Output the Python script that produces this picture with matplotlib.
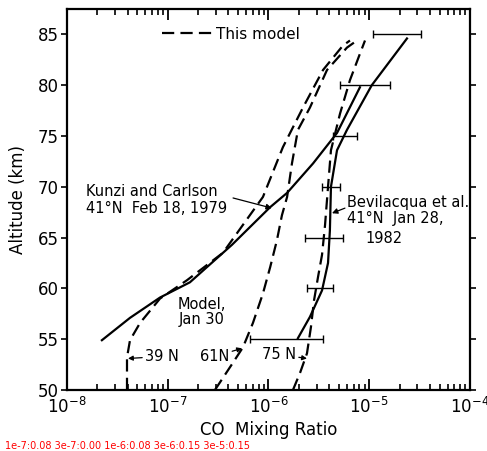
import io
import numpy as np
import matplotlib
matplotlib.use("Agg")
import matplotlib.pyplot as plt
from matplotlib.ticker import LogLocator, NullFormatter

plt.rcParams['font.family'] = ['DejaVu Sans']
plt.rcParams['mathtext.fontset'] = 'dejavusans'

# Kunzi and Carlson, 41N Feb 18 1979 (solid)
kunzi_co = [2.22e-8, 4.22e-8, 8.38e-8, 1.66e-7, 4.35e-7, 1.04e-6, 1.53e-6, 2.77e-6, 4.79e-6, 8.09e-6]
kunzi_alt = [54.9, 57.1, 59.1, 60.6, 64.3, 68.0, 69.4, 72.3, 75.3, 79.8]

# Bevilacqua et al., 41N Jan 28 1982 (solid)
bev_co = [1.96e-6, 2.58e-6, 3.40e-6, 3.90e-6, 4.07e-6, 4.17e-6, 4.79e-6, 6.01e-6, 1.06e-5, 2.37e-5]
bev_alt = [55.1, 57.2, 59.8, 62.5, 65.7, 70.0, 73.6, 75.6, 80.0, 84.6]

# Bevilacqua error bars
err_alt = [55, 60, 65, 70, 75, 80, 85]
err_lo = [6.55e-7, 2.41e-6, 2.30e-6, 3.40e-6, 4.37e-6, 5.13e-6, 1.09e-5]
err_hi = [3.48e-6, 4.37e-6, 5.48e-6, 5.13e-6, 7.55e-6, 1.61e-5, 3.27e-5]

# model, Jan 30 (dashed)
m39_co = [3.94e-8, 3.94e-8, 4.22e-8, 5.31e-8, 8.38e-8, 1.55e-7, 3.53e-7, 8.81e-7, 1.39e-6, 2.20e-6, 3.48e-6, 5.48e-6, 6.44e-6]
m39_alt = [50, 53.2, 54.9, 56.6, 59.0, 60.8, 63.5, 69.0, 73.9, 77.8, 81.5, 83.9, 84.4]

m61_co = [2.94e-7, 4.45e-7, 5.58e-7, 7.01e-7, 8.81e-7, 1.04e-6, 1.21e-6, 1.36e-6, 1.53e-6, 1.71e-6, 1.96e-6, 2.58e-6, 3.81e-6, 6.01e-6, 7.55e-6]
m61_alt = [50, 52.7, 54.2, 56.6, 59.5, 62.1, 64.7, 67.2, 69.0, 72.3, 75.6, 77.8, 81.5, 83.7, 84.4]

m75_co = [1.75e-6, 2.06e-6, 2.41e-6, 2.64e-6, 2.83e-6, 3.10e-6, 3.40e-6, 3.64e-6, 3.90e-6, 4.17e-6, 5.13e-6, 6.44e-6, 8.09e-6, 9.08e-6]
m75_alt = [50, 51.7, 53.6, 56.2, 58.8, 61.1, 63.3, 66.2, 70.0, 73.6, 77.2, 80.5, 83.1, 84.4]

fig = plt.figure(figsize=(4.87, 4.51), dpi=100)
ax = fig.add_axes([0.1376, 0.1353, 0.8274, 0.8447])

lw = 1.6
dash = (0, (5.5, 2.8))
ax.plot(kunzi_co, kunzi_alt, color='black', lw=lw)
ax.plot(bev_co, bev_alt, color='black', lw=lw)
ax.plot(m39_co, m39_alt, color='black', lw=lw, ls=dash, label='This model')
ax.plot(m61_co, m61_alt, color='black', lw=lw, ls=dash)
ax.plot(m75_co, m75_alt, color='black', lw=lw, ls=dash)

lo = np.array(err_lo)
hi = np.array(err_hi)
ctr = np.sqrt(lo * hi)
ax.errorbar(ctr, err_alt, xerr=[ctr - lo, hi - ctr], fmt='none', ecolor='black',
            elinewidth=1.0, capsize=3, capthick=1.0)

ax.set_xscale('log')
ax.set_xlim(1e-8, 1e-4)
ax.set_ylim(50, 87.5)
ax.set_yticks([50, 55, 60, 65, 70, 75, 80, 85])
ax.xaxis.set_major_locator(LogLocator(base=10, numticks=10))
ax.xaxis.set_minor_locator(LogLocator(base=10, subs=np.arange(2, 10), numticks=100))
ax.xaxis.set_minor_formatter(NullFormatter())

for s in ax.spines.values():
    s.set_linewidth(1.6)

ax.tick_params(axis='x', which='major', direction='in', length=8, width=1.3,
               top=True, labelsize=12, pad=5, color='black')
ax.tick_params(axis='x', which='minor', direction='in', length=4.5, width=1.2,
               top=True, color='black')
ax.tick_params(axis='y', which='major', direction='out', length=4, width=1.2,
               labelsize=12, pad=2)
ax.tick_params(axis='y', which='minor', left=False)
ax.tick_params(axis='y', which='major', right=True)

ax.set_xlabel('CO  Mixing Ratio', fontsize=12, labelpad=3)
ax.set_ylabel('Altitude (km)', fontsize=12, labelpad=8)

ax.legend(loc='center left', bbox_to_anchor=(0.236, 0.934), frameon=False,
          handlelength=3.4, handletextpad=0.1, borderpad=0, borderaxespad=0,
          fontsize=11)

fs = 10.5
ax.text(1.55e-8, 68.7, 'Kunzi and Carlson\n41°N  Feb 18, 1979', fontsize=fs,
        va='center', ha='left', linespacing=1.1)
ax.annotate('', xy=(1.08e-6, 67.9), xytext=(4.45e-7, 68.9),
            arrowprops=dict(arrowstyle='-|>', color='black', lw=0.9,
                            mutation_scale=8, shrinkA=0, shrinkB=0))

ax.text(6.0e-6, 68.5, 'Bevilacqua et al.', fontsize=fs, va='center', ha='left')
ax.text(6.0e-6, 66.9, '41°N  Jan 28,', fontsize=fs, va='center', ha='left')
ax.text(9.08e-6, 64.9, '1982', fontsize=fs, va='center', ha='left')
ax.annotate('', xy=(4.27e-6, 67.4), xytext=(5.74e-6, 67.9),
            arrowprops=dict(arrowstyle='-|>', color='black', lw=0.9,
                            mutation_scale=8, shrinkA=0, shrinkB=0))

ax.text(2.19e-7, 57.7, 'Model,\nJan 30', fontsize=fs, va='center', ha='center',
        linespacing=1.0)

ax.annotate('39 N', xy=(4.03e-8, 53.1), xytext=(5.94e-8, 53.3), fontsize=fs,
            va='center', ha='left',
            arrowprops=dict(arrowstyle='-|>', color='black', lw=0.9,
                            mutation_scale=7, shrinkA=0, shrinkB=0))
ax.annotate('61N', xy=(5.46e-7, 54.1), xytext=(2.09e-7, 53.3), fontsize=fs,
            va='center', ha='left',
            arrowprops=dict(arrowstyle='-|>', color='black', lw=0.9,
                            mutation_scale=7, shrinkA=0, shrinkB=0))
ax.annotate('75 N', xy=(2.41e-6, 53.1), xytext=(8.61e-7, 53.5), fontsize=fs,
            va='center', ha='left',
            arrowprops=dict(arrowstyle='-|>', color='black', lw=0.9,
                            mutation_scale=7, shrinkA=0, shrinkB=0))

# temporary check: are the bottom ticks drawn in the pixels?
buf = io.BytesIO()
fig.savefig(buf, format='png', dpi=100)
buf.seek(0)
img = plt.imread(buf)
cols = {'1e-7': 168, '3e-7': 215, '1e-6': 268, '3e-6': 315, '3e-5': 416}
msg = []
for k, c in cols.items():
    strip = img[376:389, c - 2:c + 3, 1]
    msg.append('%s:%.2f' % (k, strip.min()))
fig.text(0.01, 0.005, ' '.join(msg), fontsize=7, color='red')

fig.savefig('out.png', dpi=100)
